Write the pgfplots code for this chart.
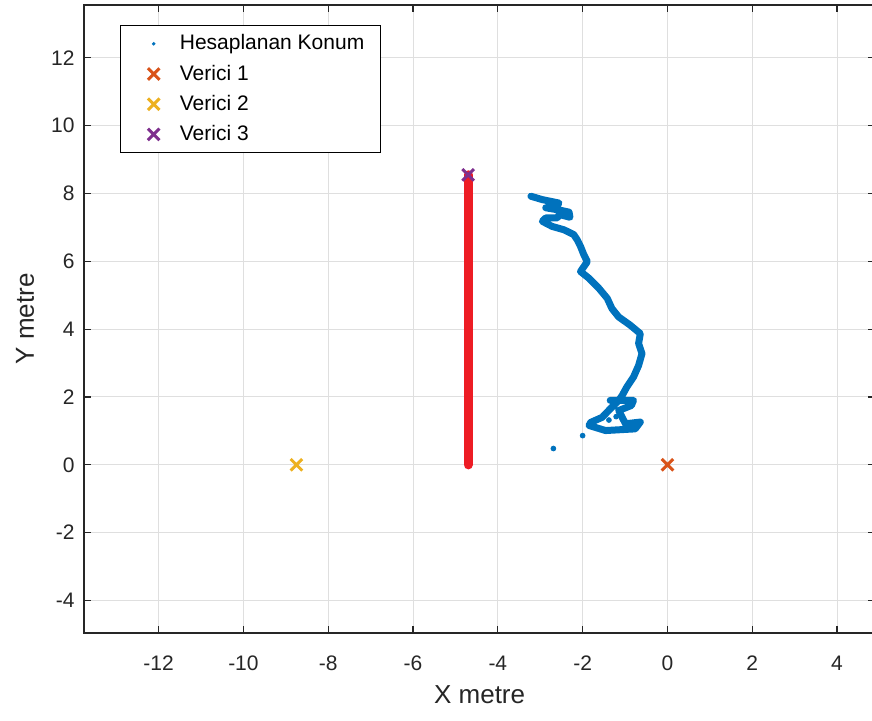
\documentclass[border=0pt]{standalone}
\usepackage{pgfplots}
\pgfplotsset{compat=1.18}
\usepackage{fontspec}
\setmainfont{Liberation Sans}
\usetikzlibrary{calc}

\definecolor{mblue}{RGB}{0,114,189}
\definecolor{morange}{RGB}{217,83,25}
\definecolor{myellow}{RGB}{237,177,32}
\definecolor{mpurple}{RGB}{126,47,142}
\definecolor{lineRed}{RGB}{237,28,36}
\definecolor{axc}{RGB}{38,38,38}
\definecolor{gridc}{RGB}{223,223,223}

\pgfplotsset{
  % marker legend entry with a fixed-width slot so the text lines up
  markslot/.style={
    legend image code/.code={
      \path[draw=none, fill=none] (0cm,-3pt) rectangle (0.76cm,3pt);
      \draw[##1] plot coordinates {(0.37cm,0cm)};
    }
  },
  transmitter/.style={only marks, mark=x, mark size=4.1pt, color=#1,
    mark options={line width=1.5pt}, markslot},
}

\begin{document}
\begin{tikzpicture}
\begin{axis}[
  scale only axis,
  width=395.6pt, height=314pt,
  xmin=-13.76, xmax=4.9,
  ymin=-4.96, ymax=13.56,
  xtick={-12,-10,...,4},
  ytick={-4,-2,...,12},
  grid=major,
  major grid style={draw=gridc, line width=0.5pt},
  axis line style={draw=axc, line width=0.6pt},
  tick align=inside,
  major tick length=3.5pt,
  tick style={draw=axc, line width=0.6pt},
  /pgf/number format/assume math mode=true,
  ticklabel style={font=\fontsize{10.5}{12}\selectfont, text=axc},
  xticklabel style={yshift=-8pt},
  yticklabel style={xshift=-1.2pt},
  xlabel={X metre},
  ylabel={Y metre},
  label style={font=\fontsize{13}{15}\selectfont, text=axc},
  xlabel style={at={(axis description cs:0.5,-0.0987)}, anchor=center},
  ylabel style={at={(axis description cs:-0.0746,0.5)}, anchor=center},
  legend cell align=left,
  legend style={
    at={(axis description cs:0.0455,0.968)}, anchor=north west,
    draw=black, line width=0.6pt, fill=white,
    font=\fontsize{10.5}{12}\selectfont,
    inner xsep=6pt, inner ysep=2.5pt,
    row sep=2pt,
    nodes={inner ysep=2pt},
  },
]

% estimated positions (trajectory)
\addplot[color=mblue, line width=3.5pt, line join=round, line cap=round,
  legend image code/.code={
    \path[draw=none, fill=none] (0cm,-3pt) rectangle (0.76cm,3pt);
    \path[draw=none, fill=mblue] (0.37cm,0) circle (0.95pt);}]
coordinates {
(-3.22,7.92) (-2.95,7.82) (-2.56,7.72) (-2.62,7.60) (-2.87,7.58)
(-2.50,7.50) (-2.32,7.45) (-2.30,7.30) (-2.55,7.38) (-2.60,7.28)
(-2.87,7.28) (-2.95,7.18) (-2.72,7.03) (-2.44,6.93) (-2.21,6.79)
(-2.13,6.64) (-2.05,6.44) (-1.97,6.19) (-1.89,5.99) (-2.05,5.70)
(-1.85,5.50) (-1.62,5.21) (-1.42,4.91) (-1.31,4.61) (-1.15,4.36)
(-0.88,4.12) (-0.64,3.87) (-0.68,3.58) (-0.60,3.28) (-0.68,2.93)
(-0.80,2.59) (-0.96,2.29) (-1.07,2.04) (-1.15,1.90) (-1.35,1.90)
(-0.80,1.90) (-0.85,1.75) (-1.15,1.60) (-0.99,1.21) (-0.64,1.26)
(-0.76,1.06) (-1.46,1.01) (-1.85,1.16) (-1.81,1.25) (-1.54,1.40)
(-1.31,1.70) (-1.15,1.90)
};
\addlegendentry{Hesaplanan Konum}

% isolated estimates
\addplot[forget plot, only marks, mark=*, mark size=1.2pt,
  color=mblue, mark options={draw=mblue, fill=mblue}]
coordinates {(-1.38,1.32) (-1.21,1.42) (-2.00,0.86) (-2.69,0.48)};

% reference path
\addplot[forget plot, color=lineRed, line width=4.6pt, line cap=round]
coordinates {(-4.7,0) (-4.7,8.55)};

\addplot[transmitter=morange] coordinates {(0,0)};
\addlegendentry{Verici 1}
\addplot[transmitter=myellow] coordinates {(-8.75,0)};
\addlegendentry{Verici 2}
\addplot[transmitter=mpurple] coordinates {(-4.7,8.55)};
\addlegendentry{Verici 3}
\end{axis}
\pgfresetboundingbox
\path[use as bounding box]
  ($(current axis.south west)+(-42pt,-44pt)$)
  rectangle ($(current axis.south west)+(394pt,316.5pt)$);
\end{tikzpicture}
\end{document}
